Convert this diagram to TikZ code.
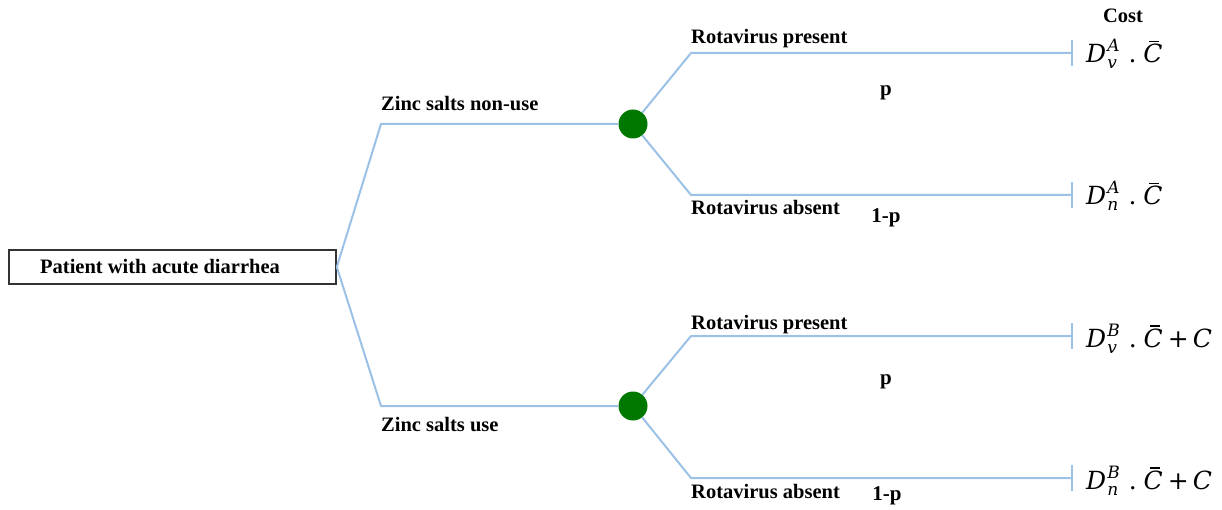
\documentclass[tikz,border=0pt]{standalone}
\usepackage{fontspec}
\setmainfont{Liberation Serif}
\newfontfamily\payfont{DejaVu Serif}
\definecolor{branchblue}{RGB}{155,194,230}
\definecolor{chancegreen}{RGB}{0,120,0}
% C with a bar over it
\newcommand\Cbar{\rlap{\kern6pt\rule[20.5pt]{10pt}{1.3pt}}\textit{C}}
% cost expression: D with stacked super/subscript, a dot, and C-bar
\newcommand\costD[2]{\textit{D}\kern1pt\raisebox{-6pt}{\fontsize{17}{17}\selectfont\itshape
  \begin{tabular}[b]{@{}l@{}}#1\\#2\end{tabular}}\kern9pt.\kern7pt\Cbar}
\begin{document}
\begin{tikzpicture}[x=1pt,y=-1pt,
  branch/.style={draw=branchblue,line width=2pt},
  lbl/.style={font=\fontsize{20.5}{23}\selectfont\bfseries,inner sep=0pt,anchor=base west},
  prob/.style={font=\fontsize{21}{24}\selectfont\bfseries,inner sep=0pt,anchor=base},
  payoff/.style={font=\payfont\fontsize{25}{30}\selectfont,inner sep=0pt,anchor=base west},
  chance/.style={circle,fill=chancegreen,minimum size=29pt,inner sep=0pt},
  rootbox/.style={draw=black!80,line width=1.6pt,minimum width=327pt,minimum height=34pt,inner sep=0pt}]
\useasboundingbox (0,0) rectangle (1222,510);

% decision root
\node[rootbox] (root) at (172.5,267) {};
\node[lbl,anchor=base] (rootlbl) at (160,274) {Patient with acute diarrhea};

% strategy branches
\coordinate (s1) at (381,124);
\coordinate (s2) at (381,406);
\node[chance] (c1) at (633,124) {};
\node[chance] (c2) at (633,406) {};
\draw[branch] (root.east) -- (s1) -- (c1);
\draw[branch] (root.east) -- (s2) -- (c2);
\node[lbl] (l1) at (381,111) {Zinc salts non-use};
\node[lbl] (l2) at (381,431) {Zinc salts use};

% outcome branches
\coordinate (k1) at (691,53);  \coordinate (e1) at (1072,53);
\coordinate (k2) at (691,195); \coordinate (e2) at (1072,195);
\coordinate (k3) at (691,336); \coordinate (e3) at (1072,336);
\coordinate (k4) at (691,478); \coordinate (e4) at (1072,478);
\draw[branch] (c1) -- (k1) -- (e1);
\draw[branch] (c1) -- (k2) -- (e2);
\draw[branch] (c2) -- (k3) -- (e3);
\draw[branch] (c2) -- (k4) -- (e4);
\foreach \e in {e1,e2,e3,e4}
  \draw[branch] ([yshift=-13pt]\e) -- ([yshift=13pt]\e);

\node[lbl] (r1) at (691,44) {Rotavirus present};
\node[lbl] (r2) at (691,215) {Rotavirus absent};
\node[lbl] (r3) at (691,329) {Rotavirus present};
\node[lbl] (r4) at (691,498) {Rotavirus absent};

\node[prob] (p1) at (886,96) {p};
\node[prob] (q1) at (886,223) {1-p};
\node[prob] (p2) at (886,384) {p};
\node[prob] (q2) at (887,500) {1-p};

% costs
\node[lbl,anchor=base] (cost) at (1123,23) {Cost};
\node[payoff] (v1) at (1086,63) {\costD{A}{v}};
\node[payoff] (v2) at (1086,205) {\costD{A}{n}};
\node[payoff] (v3) at (1086,347) {\costD{B}{v}\kern5pt+\kern4pt\textit{C}};
\node[payoff] (v4) at (1086,489) {\costD{B}{n}\kern5pt+\kern4pt\textit{C}};
\end{tikzpicture}
\end{document}
